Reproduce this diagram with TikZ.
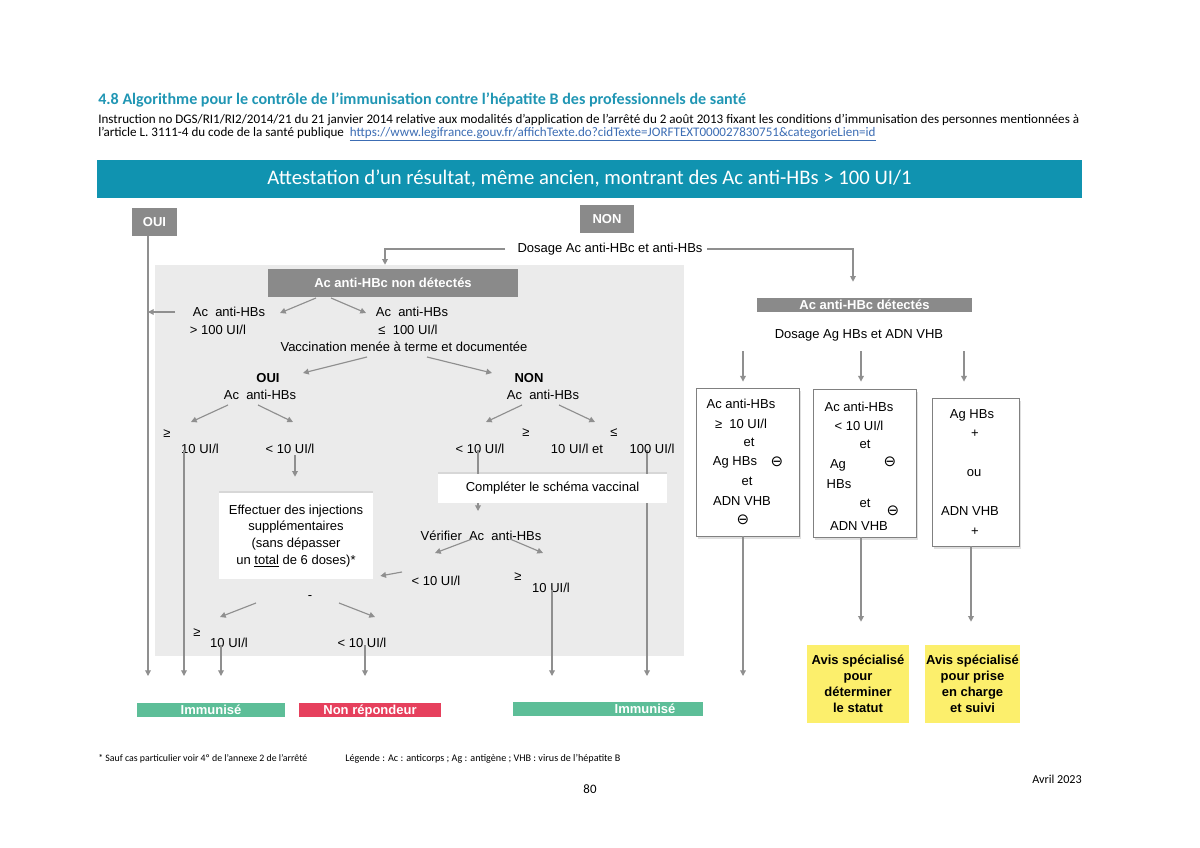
\documentclass[tikz,border=0pt]{standalone}
\usepackage{fontspec}
\setmainfont{Liberation Sans}
\newfontfamily\calibri{Carlito}
\newfontfamily\symfont{DejaVu Sans}
\usetikzlibrary{arrows.meta,backgrounds,shadows}

\definecolor{barblue}{HTML}{1093B0}
\definecolor{headblue}{HTML}{2096B4}
\definecolor{linkblue}{HTML}{3C6DB4}
\definecolor{boxgray}{HTML}{8A8A8A}
\definecolor{panelgray}{HTML}{EBEBEB}
\definecolor{linegray}{HTML}{8F8F8F}
\definecolor{immgreen}{HTML}{5DBE98}
\definecolor{nonred}{HTML}{E6405D}
\definecolor{avisyellow}{HTML}{FCEF6C}

\newcommand{\chartfont}{\fontsize{9.1}{11}\selectfont}
\newcommand{\moins}{{\symfont\fontsize{10.5}{11}\selectfont ⊖}}

\begin{document}
\begin{tikzpicture}[x=0.7pt, y=-0.7pt,
  txt/.style={inner sep=0pt, font=\chartfont},
  bold/.style={inner sep=0pt, font=\chartfont\bfseries},
  arr/.style={draw=linegray, line width=0.8pt, -{Triangle[width=4pt,length=4pt]}},
  ln/.style={draw=linegray, line width=0.8pt},
  graybox/.style={fill=boxgray, text=white, font=\chartfont\bfseries, inner sep=0pt, minimum height=19.6pt},
  whitebox/.style={fill=white, inner sep=0pt, align=center, font=\fontsize{9.1}{11.6}\selectfont,
    drop shadow={opacity=0.18, shadow xshift=0pt, shadow yshift=1.5pt}},
  resbox/.style={fill=white, draw=gray, line width=0.6pt, inner sep=0pt, minimum width=72.1pt, minimum height=103.6pt,
    drop shadow={opacity=0.25, shadow xshift=1.5pt, shadow yshift=-2pt}},
  bar/.style={inner sep=0pt, minimum height=9.8pt, text height=6.8pt, text depth=0.6pt, text=white, font=\chartfont\bfseries},
  avis/.style={fill=avisyellow, inner sep=0pt, minimum width=71.4pt, minimum height=54.6pt, align=center,
    font=\fontsize{9.1}{11.2}\selectfont\bfseries}]
\useasboundingbox (0,0) rectangle (1200,848);

% header
\node[anchor=base west, inner sep=0pt, text=headblue, font=\calibri\fontsize{11.25}{13}\selectfont\bfseries] (heading) at (98,104)
  {4.8 Algorithme pour le contrôle de l’immunisation contre l’hépatite B des professionnels de santé};
\node[anchor=base west, inner sep=0pt, font=\calibri\fontsize{9.15}{10}\selectfont] (instr1) at (98,123.5)
  {Instruction no DGS/RI1/RI2/2014/21 du 21 janvier 2014 relative aux modalités d’application de l’arrêté du 2 août 2013 fixant les conditions d’immunisation des personnes mentionnées à};
\node[anchor=base west, inner sep=0pt, font=\calibri\fontsize{9.15}{10}\selectfont] (instr2) at (98,136)
  {l’article L. 3111-4 du code de la santé publique\ \ {\color{linkblue}\underline{https://www.legifrance.gouv.fr/affichTexte.do?cidTexte=JORFTEXT000027830751\&categorieLien=id}}};
\node[fill=barblue, minimum width=689.5pt, minimum height=26.6pt, inner sep=0pt, text=white,
  font=\calibri\fontsize{14.5}{16}\selectfont] (attest) at (589.5,179)
  {Attestation d’un résultat, même ancien, montrant des Ac anti-HBs > 100 UI/1};

\node[graybox, minimum width=31.5pt] (oui) at (154.5,222) {OUI};
\node[graybox, minimum width=37.8pt] (non) at (607,219) {NON};
\node[txt] (dosage) at (610,249) {Dosage Ac anti-HBc et anti-HBs};

% Ac anti-HBc non detectes
\node[graybox, minimum width=175pt] (nondet) at (393,283) {Ac anti-HBc non détectés};
\node[txt] (abhi) at (229,312) {Ac\ \ anti-HBs};
\node[txt] (abhiv) at (218,330) {> 100 UI/l};
\node[txt] (ablo) at (412,312) {Ac\ \ anti-HBs};
\node[txt] (ablov) at (408,330) {≤\ \ 100 UI/l};
\node[txt] (vacc) at (404,347) {Vaccination menée à terme et documentée};
\node[bold] (voui) at (268,378) {OUI};
\node[txt] (vouiab) at (260,395) {Ac\ \ anti-HBs};
\node[bold] (vnon) at (529,378) {NON};
\node[txt] (vnonab) at (543,395) {Ac\ \ anti-HBs};
\node[txt] (ge1) at (167,434) {≥};
\node[txt] (ge1v) at (200,449) {10 UI/l};
\node[txt] (lt1) at (290,449) {< 10 UI/l};
\node[whitebox, minimum width=107.8pt, minimum height=60.2pt] (inj) at (296,536)
  {Effectuer des injections\\ supplémentaires\\ (sans dépasser\\ un \underline{total} de 6 doses)*};
\node[txt] (lt2) at (480,449) {< 10 UI/l};
\node[txt] (ge2) at (526,433) {≥};
\node[txt] (ge2v) at (577,449) {10 UI/l et};
\node[txt] (le2) at (614,433) {≤};
\node[txt] (le2v) at (652,449) {100 UI/l};
\node[whitebox, minimum width=160.3pt, minimum height=20.3pt] (compl) at (552.5,488.5) {Compléter le schéma vaccinal};
\node[txt] (verif) at (481,536) {Vérifier\ \ Ac\ \ anti-HBs};
\node[txt] (lt3) at (436,581) {< 10 UI/l};
\node[txt] (ge3) at (518,577) {≥};
\node[txt] (ge3v) at (551,588) {10 UI/l};
\node[txt] (dash) at (310,598) {-};
\node[txt] (ge4) at (197,633) {≥};
\node[txt] (ge4v) at (229,643) {10 UI/l};
\node[txt] (lt4) at (362,643) {< 10 UI/l};

% Ac anti-HBc detectes
\node[graybox, minimum width=150.5pt, minimum height=9.8pt] (det) at (864.5,305) {Ac anti-HBc détectés};
\node[txt] (dosag) at (859,335) {Dosage Ag HBs et ADN VHB};
\node[resbox] (b1) at (747.5,462) {};
\node[resbox] (b2) at (864.5,463) {};
\node[resbox, minimum width=60.9pt] (b3) at (975.5,472) {};
\foreach \tx/\ty/\tt [count=\i] in {741/404/{Ac anti-HBs}, 741/424/{≥\ \ 10 UI/l}, 749/442/et, 735/462/{Ag HBs},
    777/462/\moins, 747/481/et, 742/501/{ADN VHB}, 743/520/\moins,
    859/407/{Ac anti-HBs}, 859/426/{< 10 UI/l}, 865/444/et, 838/465/Ag, 890/462/\moins, 839/484/HBs,
    865/503/et, 859/526/{ADN VHB}, 893/511/\moins,
    972/415/{Ag HBs}, 975/434/+, 974/473/ou, 970/511/{ADN VHB}, 975/532/+}
  \node[txt] (bt\i) at (\tx,\ty) {\tt};
\node[avis] (avis1) at (858,684) {Avis spécialisé\\ pour\\ déterminer\\ le statut};
\node[avis, minimum width=66.5pt] (avis2) at (972.5,684) {Avis spécialisé\\ pour prise\\ en charge\\ et suivi};

% results
\node[bar, fill=immgreen, minimum width=103.6pt] (imml) at (211,710) {Immunisé};
\node[bar, fill=nonred, minimum width=99.4pt] (nonrep) at (370,710) {Non répondeur};
\node[bar, fill=immgreen, minimum width=133pt] (immr) at (608,709) {};
\node[bar, text=white] (immrt) at (645,709) {Immunisé};

% footer
\node[anchor=base west, inner sep=0pt, font=\calibri\fontsize{6.9}{8}\selectfont] (note) at (98,761)
  {* Sauf cas particulier voir 4º de l’annexe 2 de l’arrêté};
\node[anchor=base west, inner sep=0pt, font=\calibri\fontsize{7.1}{8}\selectfont] (legend) at (345,761)
  {Légende : Ac : anticorps ; Ag : antigène ; VHB : virus de l’hépatite B};
\node[inner sep=0pt, font=\calibri\fontsize{9}{10}\selectfont] (page) at (590,789) {80};
\node[anchor=east, inner sep=0pt, font=\calibri\fontsize{8.5}{10}\selectfont] (date) at (1082,779) {Avril 2023};

% connectors
\coordinate (base) at (0,676);
\coordinate (ouix) at ([shift={(-6.5,0)}]oui.south);
\coordinate (ge1x) at ([shift={(-16,1)}]ge1v.center);
\coordinate (lt2x) at ([shift={(-2,1)}]lt2.center);
\coordinate (le2x) at ([shift={(-5,1)}]le2v.center);
\coordinate (ge3x) at ([shift={(1,2)}]ge3v.center);
\coordinate (ge4x) at ([shift={(-8,2)}]ge4v.center);
\coordinate (lt4x) at ([shift={(3,2)}]lt4.center);
\coordinate (b1x) at ([shift={(-4.5,0)}]b1.south);

\draw[arr] (ouix) -- (ouix |- base);
\draw[arr] ([shift={(-105,0)}]dosage.center) -| ([shift={(-8,-4)}]nondet.north);
\draw[arr] ([shift={(97,0)}]dosage.center) -| ([shift={(-11.5,-16)}]det.north);
\draw[arr] ([shift={(-77,15)}]nondet.center) -- ([shift={(51,1)}]abhi.center);
\draw[arr] ([shift={(-62,15)}]nondet.center) -- ([shift={(-46,1)}]ablo.center);
\draw[arr] ([shift={(-54,0)}]abhi.center) -- (ouix |- abhi);
\draw[arr] ([shift={(-37,10)}]vacc.center) -- ([shift={(35,-5)}]voui.center);
\draw[arr] ([shift={(23,10)}]vacc.center) -- ([shift={(-37,-5)}]vnon.center);
\draw[arr] ([shift={(-32,10)}]vouiab.center) -- ([shift={(24,-12)}]ge1.center);
\draw[arr] ([shift={(-2,10)}]vouiab.center) -- ([shift={(3,-27)}]lt1.center);
\draw[arr] (ge1x) -- (ge1x |- base);
\draw[arr] ([shift={(5,6)}]lt1.center) -- ([shift={(-1,-16)}]inj.north);
\draw[arr] ([shift={(-21,10)}]vnonab.center) -- ([shift={(6,-27)}]lt2.center);
\draw[arr] ([shift={(16,10)}]vnonab.center) -- ([shift={(18,-27)}]ge2v.center);
\draw[ln] (lt2x) -- (lt2x |- compl.north);
\draw[arr] (lt2x |- compl.south) -- ([shift={(-3,-25)}]verif.center);
\draw[arr] ([shift={(-9,3)}]verif.center) -- ([shift={(-1,-28)}]lt3.center);
\draw[arr] ([shift={(29,3)}]verif.center) -- ([shift={(-8,-35)}]ge3v.center);
\draw[arr] ([shift={(-34,-9)}]lt3.center) -- ([shift={(7,0)}]inj.east |- lt3.north);
\draw[arr] (ge3x) -- (ge3x |- base);
\draw[arr] ([shift={(-54,5)}]dash.center) -- ([shift={(-9,-26)}]ge4v.center);
\draw[arr] ([shift={(29,5)}]dash.center) -- ([shift={(13,-26)}]lt4.center);
\draw[arr] (ge4x) -- (ge4x |- base);
\draw[arr] (lt4x) -- (lt4x |- base);
\draw[arr] ([shift={(-116,16)}]dosag.center) -- ([shift={(-4.5,-6)}]b1.north);
\draw[arr] ([shift={(2,16)}]dosag.center) -- ([shift={(-3.5,-7)}]b2.north);
\draw[arr] ([shift={(105,16)}]dosag.center) -- ([shift={(-11.5,-16)}]b3.north);
\draw[arr] (b1x) -- (b1x |- base);
\draw[arr] ([shift={(-3.5,0)}]b2.south) -- ([shift={(3,-23)}]avis1.north);
\draw[arr] ([shift={(-4.5,0)}]b3.south) -- ([shift={(-1.5,-23)}]avis2.north);

\begin{scope}[on background layer]
  \fill[white] (0,0) rectangle (1200,848);
  \fill[panelgray] (155,265) rectangle (684,656);
  \draw[arr] (le2x) -- (le2x |- base);
\end{scope}
\end{tikzpicture}
\end{document}
